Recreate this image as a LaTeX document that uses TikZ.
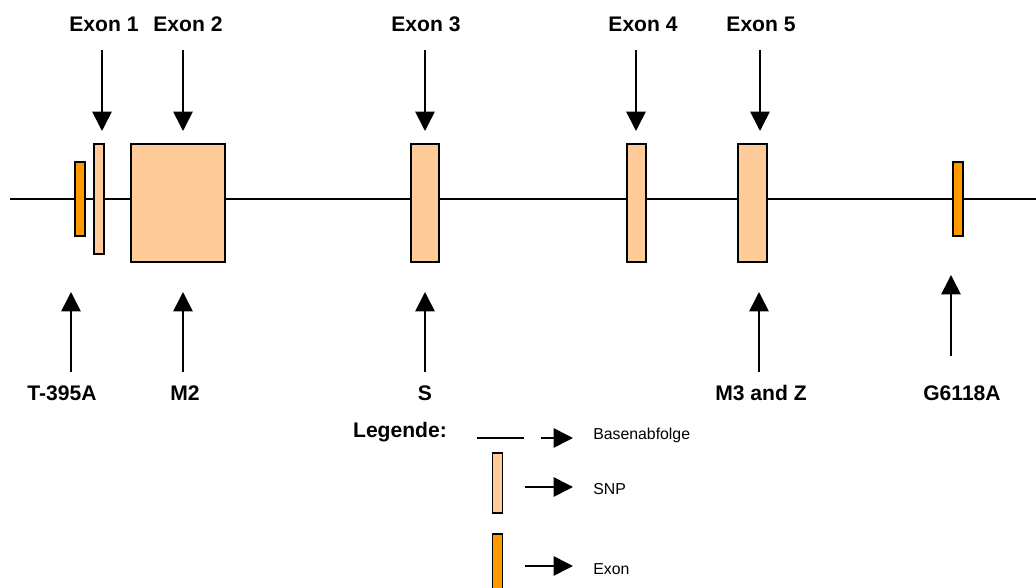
\documentclass[tikz,border=0pt]{standalone}
\usepackage{fontspec}
\setmainfont{Liberation Sans}
\usetikzlibrary{arrows.meta}
\definecolor{snpfill}{HTML}{FFCC99}
\definecolor{exonfill}{HTML}{FF9900}
\tikzset{
  seq/.style={line width=0.7pt},
  snpbox/.style={draw, line width=1pt, fill=snpfill, inner sep=0pt},
  exonbox/.style={draw, line width=1pt, fill=exonfill, inner sep=0pt},
  arr/.style={line width=0.9pt, -{Triangle[length=11pt,width=11pt]}},
  lbl/.style={font=\fontsize{12}{14}\selectfont\bfseries, anchor=base, inner sep=0pt},
  legtext/.style={font=\fontsize{9}{11}\selectfont, anchor=base west, inner sep=0pt}
}
\begin{document}
\begin{tikzpicture}[x=0.02cm,y=-0.02cm]
  \useasboundingbox (0,0) rectangle (1036,588);
  % Basenabfolge
  \coordinate (l0) at (10,199);
  \coordinate (l1) at (1036,199);
  \draw[seq] (l0)--(l1);
  % SNPs und Exons
  \node[exonbox, minimum width=0.2cm, minimum height=1.48cm] (t395) at (80,199) {};
  \node[snpbox, minimum width=0.2cm, minimum height=2.2cm] (ex1) at (99,199) {};
  \node[snpbox, minimum width=1.88cm, minimum height=2.36cm] (ex2) at (178,203) {};
  \node[snpbox, minimum width=0.56cm, minimum height=2.36cm] (ex3) at (425,203) {};
  \node[snpbox, minimum width=0.38cm, minimum height=2.36cm] (ex4) at (636.5,203) {};
  \node[snpbox, minimum width=0.58cm, minimum height=2.36cm] (ex5) at (752.5,203) {};
  \node[exonbox, minimum width=0.2cm, minimum height=1.48cm] (g6118) at (958,199) {};
  % Pfeile oben
  \foreach \x/\lx/\t in {102/104/Exon 1, 183/188/Exon 2, 425/426/Exon 3, 636/643/Exon 4, 760/761/Exon 5}{
    \node[lbl] (top\x) at (\lx,32) {\t};
    \coordinate (a\x) at (\x,50);
    \coordinate (b\x) at (\x,131);
    \draw[arr] (a\x)--(b\x);
  }
  % Pfeile unten
  \foreach \x/\lx/\t in {71/62/T-395A, 183/185/M2, 425/425/S, 759/761/M3 and Z}{
    \node[lbl] (bot\x) at (\lx,400) {\t};
    \coordinate (c\x) at (\x,372);
    \coordinate (d\x) at (\x,292);
    \draw[arr] (c\x)--(d\x);
  }
  \node[lbl] (bot951) at (962,400) {G6118A};
  \coordinate (c951) at (951,356);
  \coordinate (d951) at (951,275);
  \draw[arr] (c951)--(d951);
  % Legende
  \node[lbl] (leg) at (400,438) {Legende:};
  \coordinate (m0) at (477,438);
  \coordinate (m1) at (524,438);
  \draw[seq] (m0)--(m1);
  \coordinate (p0) at (541,438);
  \coordinate (p1) at (573,438);
  \draw[arr] (p0)--(p1);
  \node[legtext] (tbase) at (593,439) {Basenabfolge};
  \node[snpbox, minimum width=0.2cm, minimum height=1.2cm] (legsnp) at (497.5,483) {};
  \coordinate (q0) at (525,487);
  \coordinate (q1) at (573,487);
  \draw[arr] (q0)--(q1);
  \node[legtext] (tsnp) at (593,494) {SNP};
  \node[exonbox, minimum width=0.2cm, minimum height=1.2cm] (legexon) at (497.5,564) {};
  \coordinate (r0) at (525,566);
  \coordinate (r1) at (573,566);
  \draw[arr] (r0)--(r1);
  \node[legtext] (texon) at (593,574) {Exon};
\end{tikzpicture}
\end{document}
